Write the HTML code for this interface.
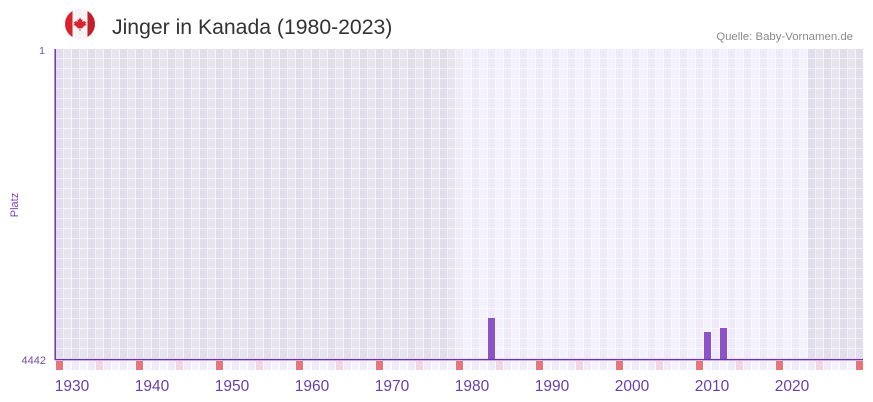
<!DOCTYPE html>
<html>
<head>
<meta charset="utf-8">
<style>
html,body{margin:0;padding:0;background:#fff;}
body{width:873px;height:402px;overflow:hidden;}
svg{display:block;font-family:"Liberation Sans",sans-serif;}
</style>
</head>
<body>
<svg width="873" height="402" viewBox="0 0 873 402" xmlns="http://www.w3.org/2000/svg">
<defs>
  <pattern id="darkCols" patternUnits="userSpaceOnUse" x="56" y="49" width="16" height="10">
    <rect x="0" y="0" width="8" height="10" fill="#e2ddec"/>
    <rect x="8" y="0" width="8" height="10" fill="#e7e4ee"/>
  </pattern>
  <pattern id="lightCols" patternUnits="userSpaceOnUse" x="56" y="49" width="16" height="10">
    <rect x="0" y="0" width="8" height="10" fill="#eeeaf9"/>
    <rect x="8" y="0" width="8" height="10" fill="#f3f1fb"/>
  </pattern>
  <pattern id="grid" patternUnits="userSpaceOnUse" x="56" y="49" width="8" height="10">
    <rect x="7" y="0" width="1" height="10" fill="#ffffff" fill-opacity="0.6"/>
    <rect x="0" y="9" width="8" height="1" fill="#ffffff" fill-opacity="0.6"/>
  </pattern>
  <pattern id="bottomCols" patternUnits="userSpaceOnUse" x="56" y="361" width="16" height="9">
    <rect x="0" y="0" width="7" height="9" fill="#efebfa"/>
    <rect x="8" y="0" width="7" height="9" fill="#f4f2fc"/>
  </pattern>
  <clipPath id="flagClip"><circle cx="80" cy="24" r="15"/></clipPath>
</defs>

<!-- Flag -->
<g clip-path="url(#flagClip)">
  <rect x="64" y="8" width="34" height="32" fill="#f4f4f4"/>
  <rect x="64" y="8" width="8.5" height="32" fill="#d8232e"/>
  <rect x="87.5" y="8" width="8.5" height="32" fill="#c41e28"/>
  <path d="M80 17.5 L81.2 19.8 L82.6 19.2 L82.2 22.2 L84.4 20.8 L84.8 22 L86.2 21.8 L85.4 24 L86.4 24.6 L82.6 27.2 L82.9 28.4 L80.4 28 L80.4 31 L79.6 31 L79.6 28 L77.1 28.4 L77.4 27.2 L73.6 24.6 L74.6 24 L73.8 21.8 L75.2 22 L75.6 20.8 L77.8 22.2 L77.4 19.2 L78.8 19.8 Z" fill="#d8232e"/>
</g>

<!-- Title -->
<text x="112" y="34" font-size="21.2" fill="#333333">Jinger in Kanada (1980-2023)</text>
<text x="853" y="40" font-size="11.4" fill="#8a8a8a" text-anchor="end">Quelle: Baby-Vornamen.de</text>

<!-- Plot background regions -->
<rect x="56" y="49" width="400" height="310" fill="url(#darkCols)"/>
<rect x="456" y="49" width="352" height="310" fill="url(#lightCols)"/>
<rect x="808" y="49" width="55" height="310" fill="url(#darkCols)"/>
<rect x="56" y="49" width="807" height="310" fill="url(#grid)"/>

<!-- Bottom row -->
<rect x="56" y="361" width="807" height="9" fill="url(#bottomCols)"/>
<g fill="#e8737a">
  <rect x="56" y="361" width="7" height="9"/>
  <rect x="136" y="361" width="7" height="9"/>
  <rect x="216" y="361" width="7" height="9"/>
  <rect x="296" y="361" width="7" height="9"/>
  <rect x="376" y="361" width="7" height="9"/>
  <rect x="456" y="361" width="7" height="9"/>
  <rect x="536" y="361" width="7" height="9"/>
  <rect x="616" y="361" width="7" height="9"/>
  <rect x="696" y="361" width="7" height="9"/>
  <rect x="776" y="361" width="7" height="9"/>
  <rect x="856" y="361" width="7" height="9"/>
</g>
<g fill="#f4d6e0">
  <rect x="96" y="361" width="7" height="9"/>
  <rect x="176" y="361" width="7" height="9"/>
  <rect x="256" y="361" width="7" height="9"/>
  <rect x="336" y="361" width="7" height="9"/>
  <rect x="416" y="361" width="7" height="9"/>
  <rect x="496" y="361" width="7" height="9"/>
  <rect x="576" y="361" width="7" height="9"/>
  <rect x="656" y="361" width="7" height="9"/>
  <rect x="736" y="361" width="7" height="9"/>
  <rect x="816" y="361" width="7" height="9"/>
</g>

<!-- Bars -->
<g fill="#8c53c9">
  <rect x="488" y="318" width="7" height="41"/>
  <rect x="704" y="332" width="7" height="27"/>
  <rect x="720" y="328" width="7" height="31"/>
</g>

<!-- Axes -->
<line x1="55.2" y1="49" x2="55.2" y2="360" stroke="#6a35a8" stroke-width="1.5"/>
<line x1="55" y1="359.6" x2="863" y2="359.6" stroke="#6a35a8" stroke-width="1.5"/>

<!-- Y labels -->
<text x="45" y="54" font-size="10.5" fill="#6f4fa6" text-anchor="end">1</text>
<text x="46" y="364" font-size="11" fill="#6f4fa6" text-anchor="end">4442</text>
<text x="0" y="0" font-size="11" fill="#7a45be" text-anchor="middle" transform="translate(18,205) rotate(-90)">Platz</text>

<!-- X labels -->
<g font-size="15.5" fill="#6b3fa8" text-anchor="middle">
  <text x="72" y="391">1930</text>
  <text x="152" y="391">1940</text>
  <text x="232" y="391">1950</text>
  <text x="312" y="391">1960</text>
  <text x="392" y="391">1970</text>
  <text x="472" y="391">1980</text>
  <text x="552" y="391">1990</text>
  <text x="632" y="391">2000</text>
  <text x="712" y="391">2010</text>
  <text x="792" y="391">2020</text>
</g>
</svg>
</body>
</html>
